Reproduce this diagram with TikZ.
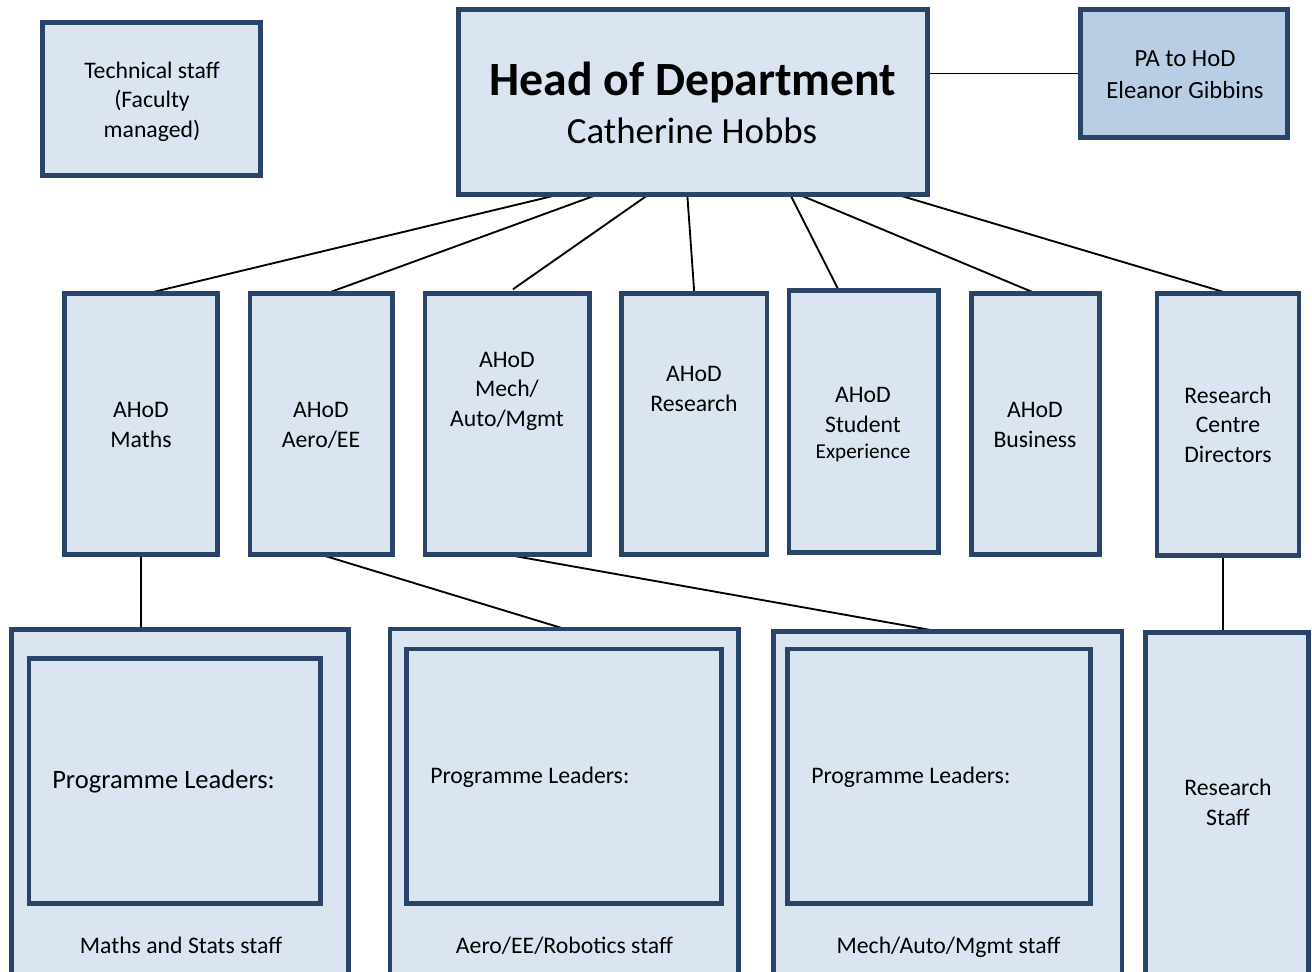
\documentclass[tikz,border=0pt]{standalone}
\usepackage{fontspec}
\setmainfont{Carlito}
\usetikzlibrary{calc,backgrounds}
\definecolor{boxfill}{HTML}{DBE5F1}
\definecolor{pafill}{HTML}{B9CDE5}
\definecolor{boxline}{HTML}{2A4467}
\tikzset{
  orgbox/.style={draw=boxline, line width=3.45pt, fill=boxfill, rectangle, inner sep=0pt, outer sep=0pt},
  lbl/.style={inner sep=0pt, align=center, font=\fontsize{17.8}{22}\selectfont, anchor=base},
  conn/.style={draw=black, line width=1.4pt},
}
\newcommand\orgrect[6][]{%
  \node[orgbox,#1, minimum width={(#4-#2-4.6)*0.75pt}, minimum height={(#5-#3-4.6)*0.75pt}] (#6) at ({(#2+#4)/2},{(#3+#5)/2}) {};}
\begin{document}
\begin{tikzpicture}[x=0.75pt,y=-0.75pt]
\useasboundingbox (0,0) rectangle (1312,971);
\clip (0,0) rectangle (1312,971);
% top row
\orgrect{40}{20}{263}{178}{Tech}
\orgrect{456}{7}{930}{197}{HoD}
\orgrect[fill=pafill]{1078}{7}{1290}{140}{PA}
% middle row
\orgrect{62}{291}{220}{557}{Maths}
\orgrect{247.5}{291}{394.5}{557}{Aero}
\orgrect{422.7}{291}{591.7}{557}{Mech}
\orgrect{619.3}{291}{769.3}{557}{Research}
\orgrect{786.7}{288.3}{941}{554.7}{Student}
\orgrect{969}{291}{1102}{557}{Business}
\orgrect{1154.7}{291}{1301.3}{558}{RCD}
% bottom row
\orgrect{9}{627.3}{351}{990}{MathsStaff}
\orgrect{26.5}{656}{323}{906}{MathsPL}
\orgrect{387.7}{626.7}{741}{990}{AeroStaff}
\orgrect{404}{646.7}{724}{906}{AeroPL}
\orgrect{771}{629}{1124.3}{990}{MechStaff}
\orgrect{785}{646.7}{1092.7}{906}{MechPL}
\orgrect{1143.3}{630}{1311}{990}{ResStaff}
% texts (multi-line nodes: base = last line baseline)
\node[lbl] (tTech) at (152,137) {Technical staff\\(Faculty\\managed)};
\node[inner sep=0pt, anchor=base, font=\fontsize{35.8}{40}\selectfont\bfseries] (tHoD) at (693,95) {Head of Department};
\node[inner sep=0pt, anchor=base, font=\fontsize{27.7}{32}\selectfont] (tCH) at (692,143) {Catherine Hobbs};
\node[lbl, font=\fontsize{18.5}{24}\selectfont] (tPA) at (1185,98) {PA to HoD\\Eleanor Gibbins};
\node[lbl] (tMaths) at (141,447) {AHoD\\Maths};
\node[lbl] (tAero) at (321,447) {AHoD\\Aero/EE};
\node[lbl] (tMech) at (507,426) {AHoD\\Mech/\\Auto/Mgmt};
\node[lbl] (tRes) at (694,411) {AHoD\\Research};
\node[lbl] (tStu) at (863,458) {AHoD\\Student\\[-2.5pt]{\fontsize{15.9}{19.5}\selectfont Experience}};
\node[lbl] (tBus) at (1035,447) {AHoD\\Business};
\node[lbl] (tRCD) at (1228,462) {Research\\Centre\\Directors};
\node[lbl, anchor=base west, font=\fontsize{19.9}{24}\selectfont] (tPL1) at (52,788) {Programme Leaders:};
\node[lbl, anchor=base west] (tPL2) at (430,783) {Programme Leaders:};
\node[lbl, anchor=base west] (tPL3) at (811,783) {Programme Leaders:};
\node[lbl] (tMS) at (181,953) {Maths and Stats staff};
\node[lbl] (tAS) at (564.5,953) {Aero/EE/Robotics staff};
\node[lbl] (tMeS) at (948.5,953) {Mech/Auto/Mgmt staff};
\node[lbl] (tRS) at (1228,825) {Research\\Staff};
% connectors
\begin{pgfonlayer}{background}
\draw[conn] (HoD.east |- PA.west) -- (PA.west);
\draw[conn] ($(HoD.south west)+(100,0)$) -- ($(Maths.north)+(7,0)$);
\draw[conn] ($(HoD.south west)+(139,0)$) -- ($(Aero.north)+(6,0)$);
\draw[conn] ($(HoD.south west)+(190,0)$) -- ($(Mech.north)+(5.7,-4)$);
\draw[conn] ($(HoD.south west)+(229,0)$) -- (Research.north);
\draw[conn] ($(HoD.south west)+(332,0)$) -- ($(Student.north)+(-25,0)$);
\draw[conn] ($(HoD.south west)+(341,0)$) -- (Business.north);
\draw[conn] ($(HoD.south west)+(439,0)$) -- (RCD.north);
\draw[conn] (Maths.south) -- (Maths.south |- MathsStaff.north);
\draw[conn] (Aero.south) -- ($(AeroStaff.north west)+(175,0)$);
\draw[conn] (Mech.south) -- ($(MechStaff.north west)+(176,2)$);
\draw[conn] ($(RCD.south)+(-5,0)$) coordinate (rcdb) -- (rcdb |- ResStaff.north);
\end{pgfonlayer}
\end{tikzpicture}
\end{document}
